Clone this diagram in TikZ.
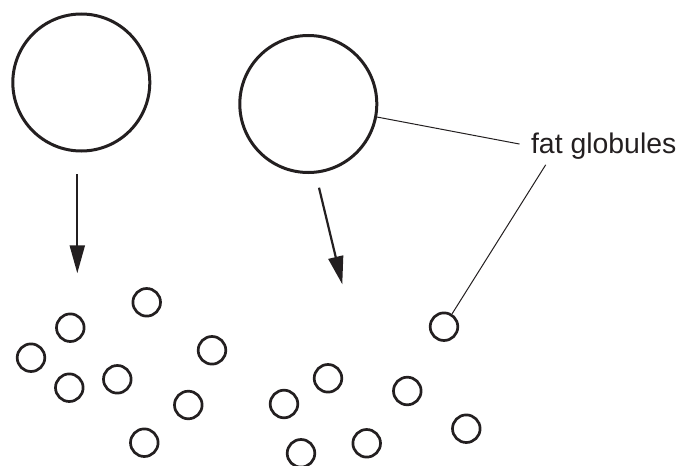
\documentclass[tikz,border=0pt]{standalone}
\usepackage{fontspec}
\setmainfont{Liberation Sans}
\usetikzlibrary{arrows.meta}
\definecolor{ink}{HTML}{231F20}

\begin{document}
\begin{tikzpicture}[x=0.5pt,y=-0.5pt,>={Triangle[length=14pt,width=7.5pt]},
                    bigglob/.style={circle,draw=ink,line width=1.5pt,minimum size=68.5pt,inner sep=0pt},
                    glob/.style={circle,draw=ink,line width=1.35pt,minimum size=13.8pt,inner sep=0pt},
                    fall/.style={->,draw=ink,fill=ink,line width=1.1pt},
                    leader/.style={draw=ink,line width=0.5pt}]
                    \useasboundingbox (0,0) rectangle (681,466);

                    \node[bigglob] (g1) at (81.3,82.5) {};
                    \node[bigglob] (g2) at (308.3,104) {};

                    \coordinate (f1s) at (77.3,174.3);
                    \coordinate (f1e) at (77.3,273.3);
                    \coordinate (f2s) at (319,187.7);
                    \coordinate (f2e) at (342.3,284.3);
                    \draw [fall] (f1s) -- (f1e);
                    \draw [fall] (f2s) -- (f2e);

                    % left group
                    \node[glob] (s1) at (146.7,302.3) {};
                    \node[glob] (s2) at (70.3,327.7) {};
                    \node[glob] (s3) at (31,357.7) {};
                    \node[glob] (s4) at (69.3,387.7) {};
                    \node[glob] (s5) at (117.3,379.3) {};
                    \node[glob] (s6) at (212,350.3) {};
                    \node[glob] (s7) at (188.3,405) {};
                    \node[glob] (s8) at (144.3,442.7) {};

                    % right group
                    \node[glob] (s9) at (284,404) {};
                    \node[glob] (s10) at (328,378.3) {};
                    \node[glob] (s11) at (301,453.3) {};
                    \node[glob] (s12) at (366.7,443.3) {};
                    \node[glob] (s13) at (407.3,391) {};
                    \node[glob] (s14) at (466.3,428.7) {};
                    \node[glob] (s15) at (444,326.7) {};

                    \node[anchor=base west,inner sep=0pt,text=ink,font=\fontsize{14.2pt}{17pt}\selectfont] (lbl) at (530.7,153.5) {fat globules};

                    \draw [leader,shorten <=5.7pt] (lbl.west) -- (g2);
                    \draw [leader] ([xshift=7.5pt,yshift=-2.5pt]lbl.south west) -- (s15);

                \end{tikzpicture}
\end{document}
